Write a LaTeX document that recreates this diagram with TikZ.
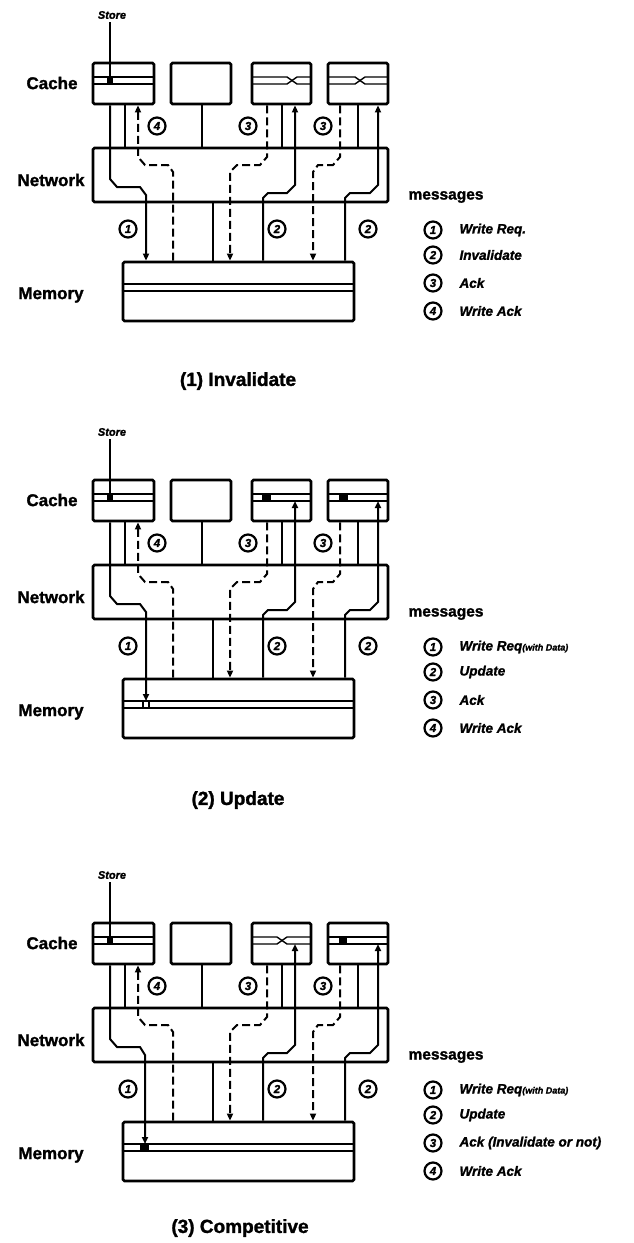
\documentclass[tikz,border=0pt]{standalone}
\usepackage{fontspec}
\setmainfont{Liberation Sans}[BoldFeatures={FakeBold=1.5},BoldItalicFeatures={FakeBold=1.5}]
\usetikzlibrary{arrows.meta}
\newcommand\panelskel[1]{%
 \node[box,minimum width=61pt,minimum height=41pt] (c1#1) at (123.5,83.5) {};
 \node[box,minimum width=60pt,minimum height=41pt] (c2#1) at (201,83.5) {};
 \node[box,minimum width=59pt,minimum height=41pt] (c3#1) at (281.5,83.5) {};
 \node[box,minimum width=60pt,minimum height=41pt] (c4#1) at (358,83.5) {};
 \node[box,minimum width=295pt,minimum height=54pt] (net#1) at (240.5,175) {};
 \node[box,minimum width=231pt,minimum height=59pt] (mem#1) at (238.5,291.5) {};
 \node[lab] (lc#1) at (52,83) {Cache};
 \node[lab] (ln#1) at (51,180) {Network};
 \node[lab] (lm#1) at (51,295) {Memory};
 \node[font=\bfseries\itshape\fontsize{11}{11}\selectfont] (st#1) at (112,15) {Store};
 \coordinate (sm#1) at (110,77);
 \draw[wire] (110,0 |- st#1.south) -- (sm#1);
 \fill (107,77) rectangle (113,84);
 \draw[row] (c1#1.west |- 0,77) -- (c1#1.east |- 0,77);
 \draw[row] (c1#1.west |- 0,84) -- (c1#1.east |- 0,84);
 \draw[row] (mem#1.west |- 0,284) -- (mem#1.east |- 0,284);
 \draw[row] (mem#1.west |- 0,291) -- (mem#1.east |- 0,291);
 % plain links
 \draw[wire] (125,0 |- c1#1.south) -- (125,0 |- net#1.north);
 \draw[wire] (202,0 |- c2#1.south) -- (202,0 |- net#1.north);
 \draw[wire] (213,0 |- net#1.south) -- (213,0 |- mem#1.north);
 \draw[wire] (282,0 |- c3#1.south) -- (282,0 |- net#1.north);
 \draw[wire] (358,0 |- c4#1.south) -- (358,0 |- net#1.north);
 % dashed messages
 \draw[dwire,tip] (173,0 |- mem#1.north) -- (173,172) -- (168,165) -- (145,165) -- (138,157) -- (138,0 |- c1#1.south);
 \draw[dwire,tip] (267,0 |- c3#1.south) -- (267,157) -- (260,165) -- (237,165) -- (230,172) -- (230,0 |- mem#1.north);
 \draw[dwire,tip] (340,0 |- c4#1.south) -- (340,157) -- (333,165) -- (318,165) -- (313,172) -- (313,0 |- mem#1.north);
 % circled numbers
 \node[num] (a4#1) at (157,126) {4};
 \node[num] (a3#1) at (248,126) {3};
 \node[num] (b3#1) at (323,126) {3};
 \node[num] (a1#1) at (128,229) {1};
 \node[num] (a2#1) at (277,229) {2};
 \node[num] (b2#1) at (368,229) {2};
 % legend
 \node[msg] (ms#1) at (405,197) {messages};
 \node[num] (l1#1) at (433,230) {1};
 \node[num] (l2#1) at (433,255) {2};
 \node[num] (l3#1) at (433,283) {3};
 \node[num] (l4#1) at (433,311) {4};
}
\newcommand\xrow[3]{%
 \draw[row] (#1,77) -- (#3-5,77) -- (#3+5,84) -- (#2,84);
 \draw[row] (#1,84) -- (#3-5,84) -- (#3+5,77) -- (#2,77);}
\newcommand\plainrow[2]{%
 \draw[row] (#1,77) -- (#2,77);
 \draw[row] (#1,84) -- (#2,84);}
\begin{document}
\begin{tikzpicture}[x=1pt,y=-1pt,
  box/.style={draw, line width=2.8pt, rounded corners=1.5pt, inner sep=0pt},
  wire/.style={line width=2pt},
  dwire/.style={line width=2pt, dash pattern=on 8pt off 4pt},
  tip/.style={-{Triangle[length=7pt,width=6pt]}},
  row/.style={line width=1.4pt},
  num/.style={circle, draw, line width=2.2pt, minimum size=17pt, inner sep=0pt, font=\bfseries\itshape\fontsize{11.5}{11.5}\selectfont},
  lab/.style={font=\bfseries\fontsize{17}{17}\selectfont},
  msg/.style={anchor=west, font=\bfseries\fontsize{15.5}{15.5}\selectfont},
  leg/.style={anchor=west, font=\bfseries\itshape\fontsize{13.5}{13.5}\selectfont},
  ttl/.style={font=\bfseries\fontsize{19}{19}\selectfont}
]
\useasboundingbox (0,0) rectangle (633,1243);

% ---------- panel 1 ----------
\begin{scope}
 \panelskel{p}
 \xrow{252}{311}{292}
 \xrow{328}{388}{360}
 \draw[wire,tip] (110,0 |- c1p.south) -- (110,179) -- (117,187) -- (140,187) -- (146,195) -- (146,0 |- memp.north);
 \draw[wire,tip] (263,0 |- memp.north) -- (263,198) -- (268,193) -- (287,193) -- (295,185) -- (295,0 |- c3p.south);
 \draw[wire,tip] (345,0 |- memp.north) -- (345,198) -- (350,193) -- (370,193) -- (378,185) -- (378,0 |- c4p.south);
 \node[leg] (t1p) at (456,230) {Write Req.};
 \node[leg] (t2p) at (456,255) {Invalidate};
 \node[leg] (t3p) at (456,283) {Ack};
 \node[leg] (t4p) at (456,311) {Write Ack};
 \node[ttl] (ttp) at (238,381) {(1) Invalidate};
\end{scope}

% ---------- panel 2 ----------
\begin{scope}[shift={(0,417)}]
 \panelskel{q}
 \plainrow{252}{311}
 \plainrow{328}{388}
 \fill (262,77) rectangle (271,84);
 \fill (339,77) rectangle (348,84);
 \coordinate (r3q) at (295,84);
 \coordinate (r4q) at (378,84);
 \coordinate (mq) at (146,284);
 \draw[line width=1.4pt] (143,284) rectangle (149,291);
 \draw[wire,tip] (110,0 |- c1q.south) -- (110,179) -- (117,187) -- (140,187) -- (146,195) -- (mq);
 \draw[wire,tip] (263,0 |- memq.north) -- (263,198) -- (268,193) -- (287,193) -- (295,185) -- (r3q);
 \draw[wire,tip] (345,0 |- memq.north) -- (345,198) -- (350,193) -- (370,193) -- (378,185) -- (r4q);
 \node[leg] (t1q) at (456,230) {Write Req{\fontsize{9}{9}\selectfont(with Data)}};
 \node[leg] (t2q) at (456,255) {Update};
 \node[leg] (t3q) at (456,283) {Ack};
 \node[leg] (t4q) at (456,311) {Write Ack};
 \node[ttl] (ttq) at (238,383) {(2) Update};
\end{scope}

% ---------- panel 3 ----------
\begin{scope}[shift={(0,860)}]
 \panelskel{r}
 \xrow{252}{311}{282}
 \plainrow{328}{388}
 \fill (339,77) rectangle (347,84);
 \coordinate (r3r) at (295,84);
 \coordinate (r4r) at (378,84);
 \coordinate (mr) at (145,284);
 \fill (140,284) rectangle (149,291);
 \draw[wire,tip] (110,0 |- c1r.south) -- (110,179) -- (117,187) -- (140,187) -- (145,195) -- (mr);
 \draw[wire,tip] (263,0 |- memr.north) -- (263,198) -- (268,193) -- (287,193) -- (295,185) -- (r3r);
 \draw[wire,tip] (345,0 |- memr.north) -- (345,198) -- (350,193) -- (370,193) -- (378,185) -- (r4r);
 \node[leg] (t1r) at (456,230) {Write Req{\fontsize{9}{9}\selectfont(with Data)}};
 \node[leg] (t2r) at (456,255) {Update};
 \node[leg] (t3r) at (456,283) {Ack (Invalidate or not)};
 \node[leg] (t4r) at (456,311) {Write Ack};
 \node[ttl] (ttr) at (240,368) {(3) Competitive};
\end{scope}
\end{tikzpicture}
\end{document}
